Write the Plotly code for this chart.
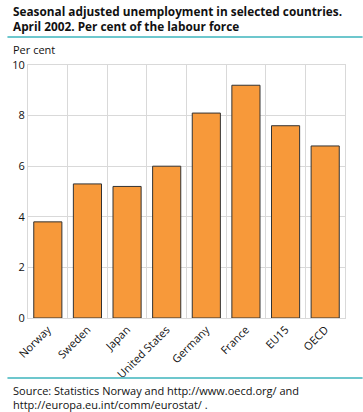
import plotly.graph_objects as go

categories = ["Norway", "Sweden", "Japan", "United States", "Germany", "France", "EU15", "OECD"]
values = [3.8, 5.3, 5.2, 6.0, 8.1, 9.2, 7.6, 6.8]
y_ticks = [0, 2, 4, 6, 8, 10]

title_lines = ["Seasonal adjusted unemployment in selected countries.",
               "April 2002. Per cent of the labour force"]
y_title = "Per cent"
source_lines = ["Source: Statistics Norway and http://www.oecd.org/ and",
                "http://europa.eu.int/comm/eurostat/ ."]

FONT = "Open Sans, DejaVu Sans, sans-serif"
TEAL = "#3cb4bd"
W, H = 363, 412
ML, MR, MT, MB = 21, 18, 65, 94

fig = go.Figure(go.Bar(
    x=categories, y=values,
    marker=dict(color="#f7993a", line=dict(color="#333333", width=1)),
    width=0.71,
))

fig.update_layout(
    width=W, height=H,
    margin=dict(l=ML, r=MR, t=MT, b=MB),
    paper_bgcolor="white", plot_bgcolor="white",
    showlegend=False,
    font=dict(family=FONT, size=11, color="#111111"),
)
fig.update_xaxes(
    type="category", tickson="boundaries", showgrid=True, gridcolor="#d9d9d9",
    gridwidth=1, showline=True, linecolor="#d9d9d9", mirror=True,
    tickangle=-45, ticks="", tickfont=dict(size=11),
    range=[-0.5, 7.5],
)
fig.update_yaxes(
    range=[0, 10], tickvals=y_ticks, showgrid=True, gridcolor="#d9d9d9",
    showline=True, linecolor="#d9d9d9", mirror=True, zeroline=False,
    ticks="", tickfont=dict(size=11),
)

pw = W - ML - MR
ph = H - MT - MB

def px_x(x):
    return (x - ML) / pw

def px_y(y):
    return (H - MB - y) / ph

anns = [
    ("<b>" + "<br>".join(title_lines) + "</b>", 4, 1, 11.8),
    (y_title, 4, 40, 11),
    ("<br>".join(source_lines), 4, 381, 11),
]
out = []
for text, xp, yp, size in anns:
    out.append(dict(
        text=text, showarrow=False, xanchor="left", yanchor="top", align="left",
        xref="paper", yref="paper", x=px_x(xp), y=px_y(yp),
        font=dict(family=FONT, size=size, color="#111111"),
    ))
fig.update_layout(annotations=out)

shapes = []
for ypx in [37, 378]:
    shapes.append(dict(type="line", xref="paper", yref="paper",
                       x0=px_x(0), x1=px_x(W), y0=px_y(ypx), y1=px_y(ypx),
                       line=dict(color=TEAL, width=1.5)))
fig.update_layout(shapes=shapes)

fig.write_html("out.html", config={"displayModeBar": False},
               post_script="document.body.style.margin='0';document.body.style.overflow='hidden';")
